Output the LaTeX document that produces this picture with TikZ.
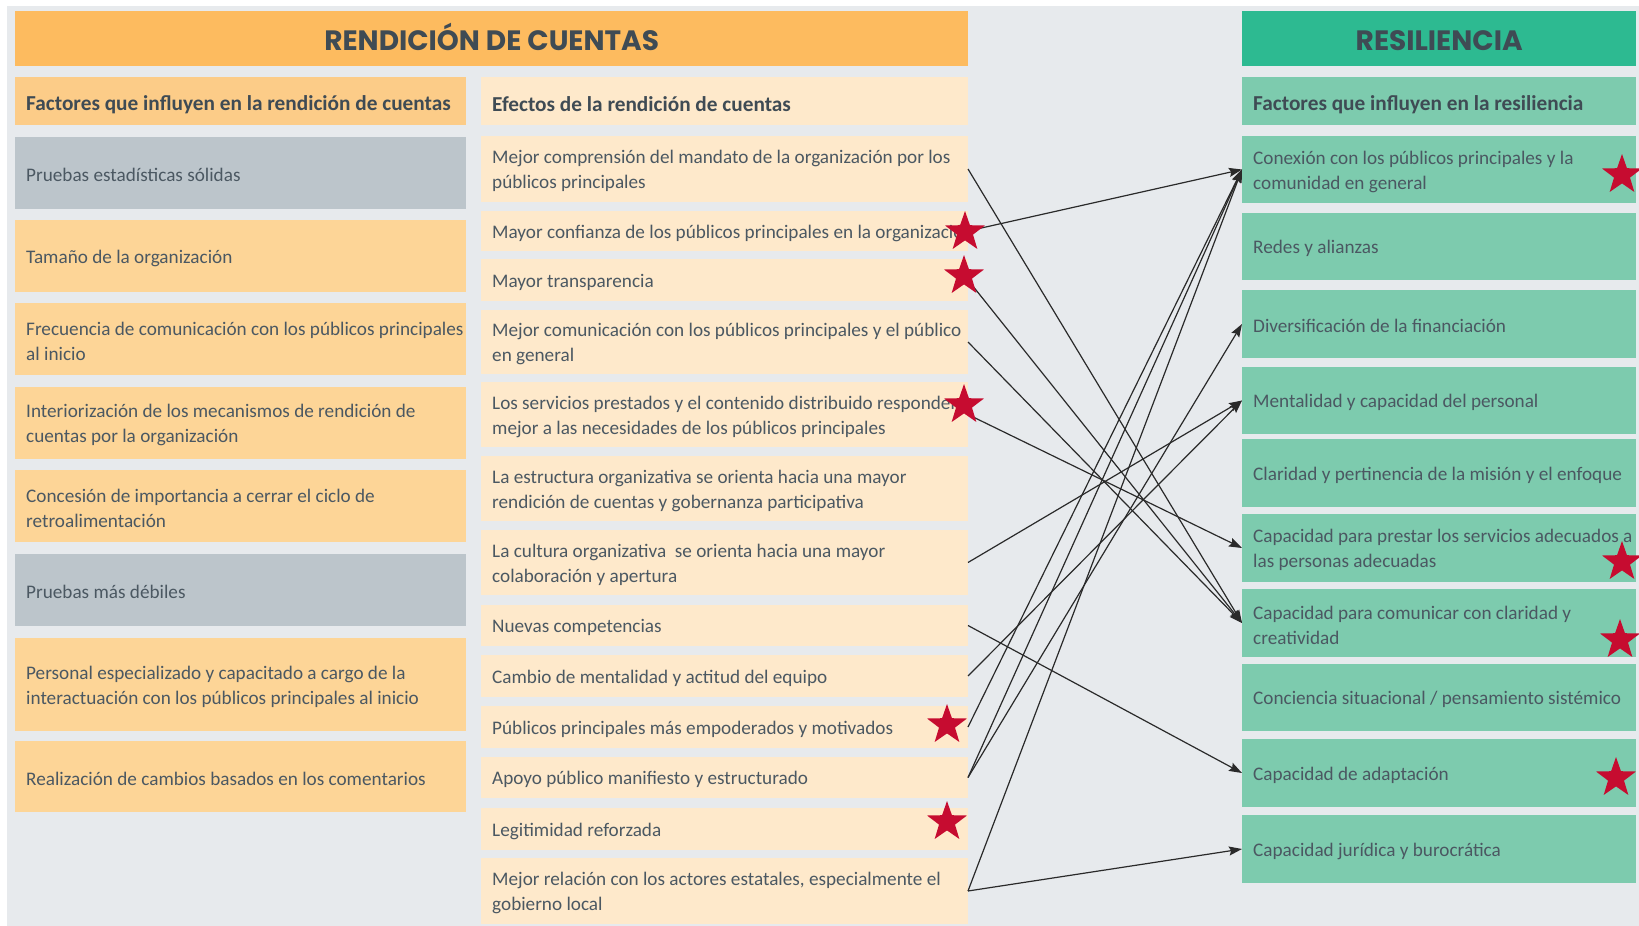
\documentclass[tikz,border=0pt]{standalone}
\usepackage{fontspec}
\setmainfont{Carlito}
\newfontfamily\hdfont{Poppins}
\usetikzlibrary{arrows.meta,shapes.geometric}
\definecolor{bgc}{HTML}{E7EAED}
\definecolor{hdorange}{HTML}{FDBB5F}
\definecolor{suborange}{HTML}{FCCC88}
\definecolor{lboxc}{HTML}{FDD597}
\definecolor{gboxc}{HTML}{BCC5CB}
\definecolor{mboxc}{HTML}{FEE9CB}
\definecolor{hdgreen}{HTML}{2DBA91}
\definecolor{rboxc}{HTML}{7DCBAE}
\definecolor{txtc}{HTML}{4B5862}
\definecolor{hdtxt}{HTML}{3F4B54}
\definecolor{starc}{HTML}{C60C30}
\definecolor{arrc}{HTML}{2A2A2A}
\newcommand\mkbox[7]{%
  \node[boxst, fill=#6, minimum width=#5pt, minimum height=#4pt-#3pt] (#1) at (#2,#3) {};
  \node[txtst] (#1t) at ([xshift=11pt,yshift=-2pt]#1.west) {#7};
}
\newcommand\mkhead[7]{%
  \node[boxst, fill=#6, minimum width=#5pt, minimum height=#4pt-#3pt] (#1) at (#2,#3) {};
  \node[subst] (#1t) at ([xshift=11pt,yshift=-3.5pt]#1.west) {#7};
}
\begin{document}
\begin{tikzpicture}[x=1pt,y=-1pt,
  boxst/.style={rectangle, draw=none, inner sep=0pt, outer sep=0pt, anchor=north west},
  txtst/.style={anchor=west, align=left, inner sep=0pt, text=txtc, font=\fontsize{19.2}{25}\selectfont},
  subst/.style={anchor=west, align=left, inner sep=0pt, text=hdtxt, font=\fontsize{21.3}{25}\selectfont\bfseries},
  titlest/.style={rectangle, draw=none, inner sep=0pt, anchor=north west, text=hdtxt, text height=23.5pt, text depth=0pt, font=\hdfont\bfseries\fontsize{28}{32}\selectfont},
  arr/.style={draw=arrc, line width=1.2pt, -{Stealth[length=13pt,width=9pt,inset=2pt]}},
  starst/.style={star, star points=5, star point ratio=2.5, fill=starc, draw=none, minimum size=42pt, inner sep=0pt}
]
\useasboundingbox (0,0) rectangle (1639,926);
\fill[white] (0,0) rectangle (1639,926);
\fill[bgc] (7,6) rectangle (1639,926);

% titles
\node[titlest, fill=hdorange, minimum width=953pt, minimum height=55pt] (hL) at (15,11) {RENDICIÓN DE CUENTAS};
\node[titlest, fill=hdgreen, minimum width=394pt, minimum height=55pt] (hR) at (1242,11) {RESILIENCIA};

% sub headers
\mkhead{sL}{15}{77}{125}{451}{suborange}{Factores que influyen en la rendición de cuentas}
\mkhead{sM}{481}{77}{125}{487}{mboxc}{Efectos de la rendición de cuentas}
\mkhead{sR}{1242}{77}{125}{394}{rboxc}{Factores que influyen en la resiliencia}

% left column
\mkbox{l1}{15}{137}{209}{451}{gboxc}{Pruebas estadísticas sólidas}
\mkbox{l2}{15}{220}{292}{451}{lboxc}{Tamaño de la organización}
\mkbox{l3}{15}{303}{375}{451}{lboxc}{Frecuencia de comunicación con los públicos principales\\al inicio}
\mkbox{l4}{15}{387}{459}{451}{lboxc}{Interiorización de los mecanismos de rendición de\\cuentas por la organización}
\mkbox{l5}{15}{470}{542}{451}{lboxc}{Concesión de importancia a cerrar el ciclo de\\retroalimentación}
\mkbox{l6}{15}{554}{626}{451}{gboxc}{Pruebas más débiles}
\mkbox{l7}{15}{638}{731}{451}{lboxc}{Personal especializado y capacitado a cargo de la\\interactuación con los públicos principales al inicio}
\mkbox{l8}{15}{741}{812}{451}{lboxc}{Realización de cambios basados en los comentarios}

% middle column
\mkbox{m1}{481}{136}{202}{487}{mboxc}{Mejor comprensión del mandato de la organización por los\\públicos principales}
\mkbox{m2}{481}{211}{251}{487}{mboxc}{Mayor confianza de los públicos principales en la organización}
\mkbox{m3}{481}{259}{301}{487}{mboxc}{Mayor transparencia}
\mkbox{m4}{481}{310}{374}{487}{mboxc}{Mejor comunicación con los públicos principales y el público\\en general}
\mkbox{m5}{481}{382}{447}{487}{mboxc}{Los servicios prestados y el contenido distribuido responden\\mejor a las necesidades de los públicos principales}
\mkbox{m6}{481}{456}{521}{487}{mboxc}{La estructura organizativa se orienta hacia una mayor\\rendición de cuentas y gobernanza participativa}
\mkbox{m7}{481}{530}{595}{487}{mboxc}{La cultura organizativa\ \ se orienta hacia una mayor\\colaboración y apertura}
\mkbox{m8}{481}{605}{646}{487}{mboxc}{Nuevas competencias}
\mkbox{m9}{481}{655}{697}{487}{mboxc}{Cambio de mentalidad y actitud del equipo}
\mkbox{m10}{481}{706}{748}{487}{mboxc}{Públicos principales más empoderados y motivados}
\mkbox{m11}{481}{757}{798}{487}{mboxc}{Apoyo público manifiesto y estructurado}
\mkbox{m12}{481}{808}{850}{487}{mboxc}{Legitimidad reforzada}
\mkbox{m13}{481}{858}{924}{487}{mboxc}{Mejor relación con los actores estatales, especialmente el\\gobierno local}

% right column
\mkbox{r1}{1242}{136}{203}{394}{rboxc}{Conexión con los públicos principales y la\\comunidad en general}
\mkbox{r2}{1242}{213}{280}{394}{rboxc}{Redes y alianzas}
\mkbox{r3}{1242}{290}{358}{394}{rboxc}{Diversificación de la financiación}
\mkbox{r4}{1242}{367}{434}{394}{rboxc}{Mentalidad y capacidad del personal}
\mkbox{r5}{1242}{439}{507}{394}{rboxc}{Claridad y pertinencia de la misión y el enfoque}
\mkbox{r6}{1242}{514}{582}{394}{rboxc}{Capacidad para prestar los servicios adecuados a\\las personas adecuadas}
\mkbox{r7}{1242}{589}{657}{394}{rboxc}{Capacidad para comunicar con claridad y\\creatividad}
\mkbox{r8}{1242}{664}{731}{394}{rboxc}{Conciencia situacional / pensamiento sistémico}
\mkbox{r9}{1242}{739}{807}{394}{rboxc}{Capacidad de adaptación}
\mkbox{r10}{1242}{815}{883}{394}{rboxc}{Capacidad jurídica y burocrática}

% connectors
\draw[arr] (m1.east) -- (r7.west);
\draw[arr] (m2.east) -- (r1.west);
\draw[arr] (m3.east) -- (r7.west);
\draw[arr] (m4.east) -- (r7.west);
\draw[arr] (m5.east) -- (r6.west);
\draw[arr] (m7.east) -- (r4.west);
\draw[arr] (m8.east) -- (r9.west);
\draw[arr] (m9.east) -- (r4.west);
\draw[arr] (m10.east) -- (r1.west);
\draw[arr] (m11.east) -- (r1.west);
\draw[arr] (m11.east) -- (r3.west);
\draw[arr] (m13.east) -- (r1.west);
\draw[arr] (m13.east) -- (r10.west);

% stars
\node[starst] (s1) at (965,232) {};
\node[starst] (s2) at (964,276) {};
\node[starst] (s3) at (964,405) {};
\node[starst] (s4) at (947,725) {};
\node[starst] (s5) at (947,822) {};
\node[starst] (s6) at (1622,175) {};
\node[starst] (s7) at (1622,562) {};
\node[starst] (s8) at (1620,640) {};
\node[starst] (s9) at (1616,778) {};
\end{tikzpicture}
\end{document}
